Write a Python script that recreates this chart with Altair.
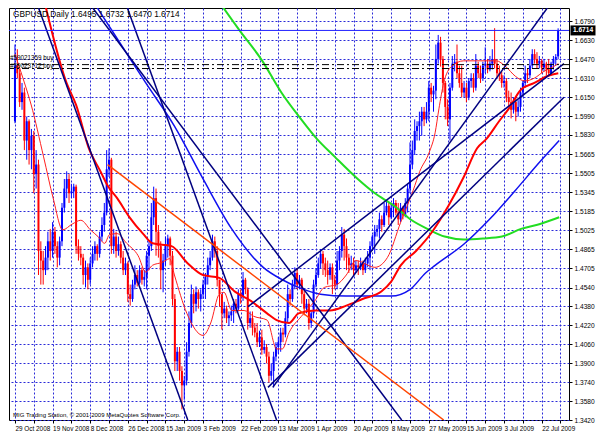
import json
import altair as alt
import pandas as pd

# ---------------- text ----------------
symbol_title = "GBPUSD,Daily  1.6495 1.6732 1.6470 1.6714"
copyright_text = "MIG Trading Station, \u00a9 2001-2009 MetaQuotes Software Corp."
date_labels = ["29 Oct 2008", "19 Nov 2008", "8 Dec 2008", "26 Dec 2008", "15 Jan 2009",
               "3 Feb 2009", "22 Feb 2009", "13 Mar 2009", "1 Apr 2009", "20 Apr 2009",
               "8 May 2009", "27 May 2009", "15 Jun 2009", "3 Jul 2009", "22 Jul 2009"]
price_ticks = [1.6790, 1.6630, 1.6470, 1.6310, 1.6150, 1.5990, 1.5830, 1.5665, 1.5505, 1.5345,
               1.5185, 1.5025, 1.4865, 1.4705, 1.4540, 1.4380, 1.4220, 1.4060, 1.3900, 1.3740,
               1.3580, 1.3420]

# ---------------- daily candles (bar index 0..231) ----------------
opens = [
    1.5946, 1.6417, 1.6352, 1.6108, 1.6189, 1.5783, 1.5946, 1.5702, 1.5824, 1.5499,
    1.5580, 1.4849, 1.4768, 1.4687, 1.4793, 1.4931, 1.4849, 1.5012, 1.4890, 1.4793,
    1.4931, 1.5215, 1.5377, 1.5458, 1.5337, 1.5353, 1.5393, 1.4890, 1.4825, 1.4793,
    1.4646, 1.4711, 1.4606, 1.4744, 1.4825, 1.4890, 1.4825, 1.4971, 1.5069, 1.5174,
    1.5540, 1.5621, 1.4890, 1.4971, 1.4849, 1.4906, 1.4793, 1.4687, 1.4744, 1.4484,
    1.4443, 1.4565, 1.4646, 1.4581, 1.4687, 1.4606, 1.4630, 1.4809, 1.4890, 1.5134,
    1.5296, 1.5012, 1.4890, 1.4687, 1.4768, 1.4890, 1.4955, 1.4809, 1.4443, 1.3916,
    1.3997, 1.3834, 1.3713, 1.3753, 1.3997, 1.4240, 1.4484, 1.4403, 1.4500, 1.4443,
    1.4484, 1.4565, 1.4630, 1.4728, 1.4793, 1.4931, 1.4849, 1.4606, 1.4484, 1.4322,
    1.4362, 1.4281, 1.4305, 1.4338, 1.4403, 1.4362, 1.4484, 1.4468, 1.4606, 1.4525,
    1.4240, 1.4281, 1.4200, 1.4159, 1.4078, 1.4119, 1.4013, 1.4037, 1.3956, 1.3794,
    1.3834, 1.3956, 1.4037, 1.4078, 1.4159, 1.4143, 1.4281, 1.4484, 1.4443, 1.4565,
    1.4663, 1.4565, 1.4606, 1.4484, 1.4362, 1.4403, 1.4240, 1.4322, 1.4565, 1.4646,
    1.4744, 1.4825, 1.4744, 1.4687, 1.4646, 1.4711, 1.4606, 1.4565, 1.4768, 1.4849,
    1.4987, 1.4890, 1.4793, 1.4728, 1.4744, 1.4687, 1.4728, 1.4711, 1.4744, 1.4687,
    1.4744, 1.4793, 1.4890, 1.4971, 1.5012, 1.5036, 1.5117, 1.5069, 1.5174, 1.5231,
    1.5134, 1.5215, 1.5255, 1.5174, 1.5117, 1.5215, 1.5150, 1.5255, 1.5377, 1.5580,
    1.5702, 1.5864, 1.5905, 1.5946, 1.6027, 1.5962, 1.6027, 1.6230, 1.6173, 1.6205,
    1.6473, 1.6611, 1.6473, 1.6270, 1.6067, 1.5962, 1.6230, 1.6433, 1.6449, 1.6352,
    1.6270, 1.6189, 1.6230, 1.6149, 1.6287, 1.6311, 1.6230, 1.6417, 1.6352, 1.6311,
    1.6417, 1.6433, 1.6384, 1.6433, 1.6473, 1.6433, 1.6352, 1.6335, 1.6270, 1.6287,
    1.6149, 1.6108, 1.6043, 1.6108, 1.6027, 1.6067, 1.6189, 1.6270, 1.6352, 1.6335,
    1.6417, 1.6514, 1.6473, 1.6433, 1.6457, 1.6400, 1.6433, 1.6384, 1.6352, 1.6433,
    1.6473, 1.6495]
highs = [
    1.6595, 1.6555, 1.6392, 1.6270, 1.6230, 1.5986, 1.5962, 1.5881, 1.5864, 1.5702,
    1.5621, 1.4931, 1.4849, 1.4890, 1.5012, 1.5036, 1.5093, 1.5052, 1.4931, 1.4971,
    1.5255, 1.5458, 1.5523, 1.5499, 1.5418, 1.5418, 1.5410, 1.4947, 1.4890, 1.4825,
    1.4768, 1.4744, 1.4793, 1.4890, 1.4931, 1.4906, 1.5012, 1.5134, 1.5255, 1.5702,
    1.5718, 1.5637, 1.5036, 1.5012, 1.4971, 1.4931, 1.4849, 1.4793, 1.4760, 1.4565,
    1.4606, 1.4728, 1.4687, 1.4728, 1.4711, 1.4687, 1.4849, 1.4931, 1.5255, 1.5393,
    1.5377, 1.5069, 1.4931, 1.4825, 1.4971, 1.4987, 1.4971, 1.4849, 1.4484, 1.4037,
    1.4037, 1.3875, 1.3794, 1.4078, 1.4338, 1.4565, 1.4525, 1.4549, 1.4525, 1.4525,
    1.4606, 1.4663, 1.4793, 1.4849, 1.4987, 1.4971, 1.4890, 1.4606, 1.4484, 1.4419,
    1.4387, 1.4338, 1.4387, 1.4443, 1.4443, 1.4525, 1.4525, 1.4671, 1.4622, 1.4541,
    1.4338, 1.4338, 1.4240, 1.4240, 1.4175, 1.4184, 1.4094, 1.4062, 1.3997, 1.3899,
    1.3997, 1.4078, 1.4119, 1.4200, 1.4200, 1.4338, 1.4565, 1.4525, 1.4606, 1.4711,
    1.4703, 1.4646, 1.4622, 1.4525, 1.4443, 1.4443, 1.4338, 1.4606, 1.4703, 1.4793,
    1.4866, 1.4849, 1.4793, 1.4768, 1.4744, 1.4744, 1.4646, 1.4849, 1.4890, 1.5052,
    1.5036, 1.4955, 1.4825, 1.4809, 1.4793, 1.4768, 1.4768, 1.4793, 1.4768, 1.4793,
    1.4849, 1.4931, 1.4987, 1.5069, 1.5069, 1.5174, 1.5150, 1.5255, 1.5272, 1.5255,
    1.5255, 1.5296, 1.5280, 1.5255, 1.5255, 1.5231, 1.5296, 1.5418, 1.5767, 1.5783,
    1.5962, 1.5946, 1.6027, 1.6067, 1.6067, 1.6108, 1.6287, 1.6270, 1.6246, 1.6595,
    1.6676, 1.6660, 1.6498, 1.6287, 1.6132, 1.6270, 1.6498, 1.6514, 1.6595, 1.6417,
    1.6417, 1.6287, 1.6270, 1.6311, 1.6352, 1.6352, 1.6514, 1.6449, 1.6417, 1.6449,
    1.6571, 1.6473, 1.6498, 1.6555, 1.6733, 1.6473, 1.6417, 1.6368, 1.6335, 1.6311,
    1.6205, 1.6189, 1.6149, 1.6149, 1.6124, 1.6230, 1.6287, 1.6417, 1.6392, 1.6473,
    1.6555, 1.6555, 1.6530, 1.6498, 1.6473, 1.6473, 1.6449, 1.6473, 1.6449, 1.6498,
    1.6514, 1.6732]
lows = [
    1.5929, 1.6311, 1.6067, 1.6043, 1.5702, 1.5621, 1.5580, 1.5540, 1.5337, 1.5377,
    1.4646, 1.4565, 1.4565, 1.4646, 1.4687, 1.4768, 1.4793, 1.4825, 1.4711, 1.4728,
    1.4890, 1.5174, 1.5296, 1.5255, 1.5296, 1.5296, 1.4825, 1.4768, 1.4728, 1.4565,
    1.4541, 1.4525, 1.4565, 1.4711, 1.4768, 1.4768, 1.4793, 1.4931, 1.5012, 1.5150,
    1.5475, 1.4825, 1.4825, 1.4793, 1.4809, 1.4744, 1.4646, 1.4646, 1.4419, 1.4387,
    1.4419, 1.4525, 1.4549, 1.4565, 1.4565, 1.4549, 1.4525, 1.4687, 1.4849, 1.5069,
    1.4809, 1.4793, 1.4525, 1.4500, 1.4728, 1.4793, 1.4728, 1.4387, 1.3834, 1.3834,
    1.3753, 1.3510, 1.3591, 1.3713, 1.3956, 1.4200, 1.4322, 1.4338, 1.4362, 1.4338,
    1.4443, 1.4443, 1.4565, 1.4687, 1.4768, 1.4793, 1.4549, 1.4378, 1.4184, 1.4281,
    1.4240, 1.4216, 1.4257, 1.4240, 1.4322, 1.4338, 1.4403, 1.4427, 1.4484, 1.4184,
    1.4200, 1.4135, 1.4119, 1.4037, 1.4037, 1.3972, 1.3981, 1.3899, 1.3737, 1.3753,
    1.3696, 1.3916, 1.3981, 1.3997, 1.4078, 1.4119, 1.4240, 1.4387, 1.4419, 1.4525,
    1.4525, 1.4525, 1.4403, 1.4305, 1.4322, 1.4184, 1.4200, 1.4281, 1.4541, 1.4622,
    1.4703, 1.4646, 1.4630, 1.4565, 1.4606, 1.4484, 1.4525, 1.4525, 1.4687, 1.4793,
    1.4768, 1.4687, 1.4663, 1.4687, 1.4646, 1.4663, 1.4646, 1.4687, 1.4646, 1.4663,
    1.4711, 1.4687, 1.4849, 1.4825, 1.4971, 1.4955, 1.5012, 1.5052, 1.5150, 1.5069,
    1.5117, 1.5134, 1.5150, 1.5069, 1.5093, 1.5117, 1.5134, 1.5174, 1.5337, 1.5540,
    1.5661, 1.5783, 1.5783, 1.5824, 1.5905, 1.5929, 1.5946, 1.6108, 1.6027, 1.6132,
    1.6433, 1.6408, 1.6189, 1.5962, 1.5905, 1.5783, 1.6205, 1.6368, 1.6311, 1.6230,
    1.6149, 1.6149, 1.6108, 1.6124, 1.6230, 1.6189, 1.6205, 1.6311, 1.6270, 1.6287,
    1.6352, 1.6352, 1.6368, 1.6384, 1.6392, 1.6311, 1.6287, 1.6230, 1.6230, 1.6108,
    1.6067, 1.5970, 1.6011, 1.5946, 1.5986, 1.6027, 1.6149, 1.6230, 1.6270, 1.6311,
    1.6392, 1.6433, 1.6392, 1.6392, 1.6352, 1.6368, 1.6335, 1.6327, 1.6335, 1.6384,
    1.6417, 1.6470]
closes = [
    1.6417, 1.6352, 1.6108, 1.6189, 1.5783, 1.5946, 1.5702, 1.5824, 1.5499, 1.5580,
    1.4849, 1.4768, 1.4687, 1.4793, 1.4931, 1.4849, 1.5012, 1.4890, 1.4793, 1.4931,
    1.5215, 1.5377, 1.5458, 1.5337, 1.5353, 1.5393, 1.4890, 1.4825, 1.4793, 1.4646,
    1.4711, 1.4606, 1.4744, 1.4825, 1.4890, 1.4825, 1.4971, 1.5069, 1.5174, 1.5540,
    1.5621, 1.4890, 1.4971, 1.4849, 1.4906, 1.4793, 1.4687, 1.4744, 1.4484, 1.4443,
    1.4565, 1.4646, 1.4581, 1.4687, 1.4606, 1.4630, 1.4809, 1.4890, 1.5134, 1.5296,
    1.5012, 1.4890, 1.4687, 1.4768, 1.4890, 1.4955, 1.4809, 1.4443, 1.3916, 1.3997,
    1.3834, 1.3713, 1.3753, 1.3997, 1.4240, 1.4484, 1.4403, 1.4500, 1.4443, 1.4484,
    1.4565, 1.4630, 1.4728, 1.4793, 1.4931, 1.4849, 1.4606, 1.4484, 1.4322, 1.4362,
    1.4281, 1.4305, 1.4338, 1.4403, 1.4362, 1.4484, 1.4468, 1.4606, 1.4525, 1.4240,
    1.4281, 1.4200, 1.4159, 1.4078, 1.4119, 1.4013, 1.4037, 1.3956, 1.3794, 1.3834,
    1.3956, 1.4037, 1.4078, 1.4159, 1.4143, 1.4281, 1.4484, 1.4443, 1.4565, 1.4663,
    1.4565, 1.4606, 1.4484, 1.4362, 1.4403, 1.4240, 1.4322, 1.4565, 1.4646, 1.4744,
    1.4825, 1.4744, 1.4687, 1.4646, 1.4711, 1.4606, 1.4565, 1.4768, 1.4849, 1.4987,
    1.4890, 1.4793, 1.4728, 1.4744, 1.4687, 1.4728, 1.4711, 1.4744, 1.4687, 1.4744,
    1.4793, 1.4890, 1.4971, 1.5012, 1.5036, 1.5117, 1.5069, 1.5174, 1.5231, 1.5134,
    1.5215, 1.5255, 1.5174, 1.5117, 1.5215, 1.5150, 1.5255, 1.5377, 1.5580, 1.5702,
    1.5864, 1.5905, 1.5946, 1.6027, 1.5962, 1.6027, 1.6230, 1.6173, 1.6205, 1.6473,
    1.6611, 1.6473, 1.6270, 1.6067, 1.5962, 1.6230, 1.6433, 1.6449, 1.6352, 1.6270,
    1.6189, 1.6230, 1.6149, 1.6287, 1.6311, 1.6230, 1.6417, 1.6352, 1.6311, 1.6417,
    1.6433, 1.6384, 1.6433, 1.6473, 1.6433, 1.6352, 1.6335, 1.6270, 1.6287, 1.6149,
    1.6108, 1.6043, 1.6108, 1.6027, 1.6067, 1.6189, 1.6270, 1.6352, 1.6335, 1.6417,
    1.6514, 1.6473, 1.6433, 1.6457, 1.6400, 1.6433, 1.6384, 1.6352, 1.6433, 1.6473,
    1.6490, 1.6714]

# ---------------- indicator lines (bar index, price) ----------------
fast_ma_idx = [0, 3.65, 6.9, 12.18, 16.24, 20.3, 24.37, 28.02, 32.08, 35.33, 38.17, 40.2, 43.45,
               47.51, 52.39, 55.63, 58.48, 62.54, 65.79, 67.82, 73.1, 80.0, 83.25, 86.9, 88.93,
               92.18, 97.46, 101.52, 107.21, 111.27, 113.71, 116.55, 121.83, 127.51, 131.57,
               136.85, 140.91, 144.97, 153.1, 158.38, 164.06, 169.34, 172.18, 176.24, 178.68,
               180.3, 182.34, 185.58, 190.86, 197.77, 204.67, 208.73, 212.79, 216.85, 220.91,
               224.97, 229.04, 231.07]
fast_ma_val = [1.6514, 1.6295, 1.6084, 1.5645, 1.5296, 1.5028, 1.5077, 1.5109, 1.5028, 1.4971,
               1.4914, 1.4987, 1.4996, 1.4914, 1.4809, 1.4671, 1.4728, 1.4752, 1.4784, 1.4646,
               1.4322, 1.4135, 1.4240, 1.4484, 1.4500, 1.4346, 1.4346, 1.4297, 1.4265, 1.4021,
               1.4021, 1.4159, 1.4297, 1.4427, 1.4541, 1.4565, 1.4646, 1.4768, 1.4711, 1.4793,
               1.5093, 1.5361, 1.5523, 1.5686, 1.5848, 1.6051, 1.6270, 1.6408, 1.6457, 1.6457,
               1.6457, 1.6408, 1.6327, 1.6287, 1.6311, 1.6368, 1.6408, 1.6433]
slow_ma_idx = [13.0, 21.93, 25.99, 31.27, 36.55, 39.39, 43.45, 48.73, 54.42, 58.48, 66.6, 73.1,
               80.0, 86.9, 93.4, 100.3, 107.21, 111.27, 116.55, 120.61, 127.51, 134.01, 140.91,
               147.82, 155.94, 160.0, 164.06, 170.56, 177.46, 184.37, 190.86, 196.55, 200.61,
               205.89, 209.95, 215.23, 220.91, 226.19, 231.07]
slow_ma_val = [1.6920, 1.6270, 1.6084, 1.5726, 1.5515, 1.5402, 1.5296, 1.5134, 1.4996, 1.4914,
               1.4890, 1.4752, 1.4646, 1.4622, 1.4508, 1.4427, 1.4322, 1.4265, 1.4240, 1.4322,
               1.4346, 1.4346, 1.4387, 1.4443, 1.4508, 1.4590, 1.4728, 1.4849, 1.5012, 1.5231,
               1.5475, 1.5718, 1.5799, 1.5946, 1.6051, 1.6214, 1.6270, 1.6327, 1.6352]
blue_ma_idx = [34.52, 45.08, 55.63, 67.82, 80.0, 92.18, 105.58, 113.71, 120.61, 129.95,
               140.91, 160.0, 168.12, 174.62, 178.68, 190.86, 201.83, 212.79, 223.35, 231.47]
blue_ma_val = [1.6920, 1.6595, 1.6270, 1.5905, 1.5458, 1.5036, 1.4711, 1.4606, 1.4541, 1.4484,
               1.4468, 1.4468, 1.4525, 1.4663, 1.4728, 1.4906, 1.5117, 1.5361, 1.5605, 1.5783]
green_ma_idx = [88.12, 95.43, 105.18, 113.3, 121.42, 127.92, 136.04, 145.79, 153.1, 161.22,
                168.12, 176.24, 182.74, 190.86, 198.98, 207.11, 215.23, 223.35, 231.47]
green_ma_val = [1.6920, 1.6717, 1.6457, 1.6189, 1.5970, 1.5808, 1.5645, 1.5458, 1.5337, 1.5231,
                1.5117, 1.5028, 1.4971, 1.4947, 1.4955, 1.4971, 1.5036, 1.5077, 1.5134]

# ---------------- trend lines: start / end (bar index, price) ----------------
trend_names = ["d1", "d2", "n1", "ua", "ub", "uc"]
trend_idx0 = [9.75, 47.51, 32.49, 99.09, 109.64, 107.61]
trend_val0 = [1.6920, 1.6920, 1.6920, 1.4378, 1.3696, 1.3696]
trend_idx1 = [73.5, 111.27, 164.47, 233.5, 227.0, 233.5]
trend_val1 = [1.3420, 1.3420, 1.3420, 1.6433, 1.6920, 1.6149]
orange_idx = [39.39, 182.34]
orange_val = [1.5580, 1.3420]

bid_price = 1.6714
order_prices = [1.6425, 1.6392]
order_labels = ["#59021359 buy", "#59023712 buy"]

# ---------------- chart ----------------
W, H = 560, 412
FONT = "Liberation Sans"
GRID = "#2a2ad8"
xs = alt.Scale(domain=[-0.41, 233.5], nice=False, zero=False)
ys = alt.Scale(domain=[1.3420, 1.69037], nice=False, zero=False)

label_arr = json.dumps(date_labels)
x_axis = alt.Axis(values=list(range(0, 233, 8)),
                  labelExpr=f"(datum.value % 16 === 0 && datum.value <= 224) ? {label_arr}[datum.value / 16] : ''",
                  grid=True, gridColor=GRID, gridDash=[2, 2], gridWidth=1, gridOpacity=1,
                  domain=False, ticks=True, tickSize=3, tickColor="black",
                  labelAlign="left", labelBaseline="top", labelPadding=2, labelFont=FONT,
                  labelFontSize=6.4, labelColor="black", labelOverlap=False, labelFlush=False,
                  labelBound=False, title=None)
y_axis = alt.Axis(orient="right", values=price_ticks, format=".4f",
                  grid=True, gridColor=GRID, gridDash=[2, 2], gridWidth=1, gridOpacity=1,
                  domain=False, ticks=True, tickSize=3, tickColor="black",
                  labelPadding=2, labelFont=FONT, labelFontSize=6.6, labelColor="black",
                  labelOverlap=False, labelFlush=False, labelBound=False, title=None)


def X(field="idx"):
    return alt.X(f"{field}:Q", scale=xs, axis=x_axis)


def Y(field="price"):
    return alt.Y(f"{field}:Q", scale=ys, axis=y_axis)


n = len(closes)
candles = pd.DataFrame({"idx": list(range(n)), "open": opens, "high": highs,
                        "low": lows, "close": closes})
candles["dir"] = ["up" if c >= o else "down" for o, c in zip(opens, closes)]

color = alt.Color("dir:N", scale=alt.Scale(domain=["up", "down"], range=["#0000ff", "#ff0000"]),
                  legend=None)

wicks = alt.Chart(candles).mark_rule(strokeWidth=1).encode(
    x=X(), y=Y("low"), y2="high:Q", color=color)
bodies = alt.Chart(candles).mark_bar(size=2).encode(
    x=X(), y=Y("open"), y2="close:Q", color=color)


def line_layer(idx, val, col, width, interp="linear"):
    df = pd.DataFrame({"idx": idx, "price": val})
    return alt.Chart(df).mark_line(color=col, strokeWidth=width, clip=True,
                                   interpolate=interp).encode(x=X(), y=Y())


green_layer = line_layer(green_ma_idx, green_ma_val, "#22dd22", 2, "monotone")
blue_layer = line_layer(blue_ma_idx, blue_ma_val, "#1010f0", 1.5, "monotone")
slow_layer = line_layer(slow_ma_idx, slow_ma_val, "#ff0000", 2, "monotone")
fast_layer = line_layer(fast_ma_idx, fast_ma_val, "#ff2020", 1, "monotone")

trend_rows = []
for nm, a0, v0, a1, v1 in zip(trend_names, trend_idx0, trend_val0, trend_idx1, trend_val1):
    trend_rows.append({"name": nm, "idx": a0, "price": v0})
    trend_rows.append({"name": nm, "idx": a1, "price": v1})
trend_df = pd.DataFrame(trend_rows)
trend_layer = alt.Chart(trend_df).mark_line(color="#000080", strokeWidth=1.5, clip=True).encode(
    x=X(), y=Y(), detail="name:N")
orange_layer = line_layer(orange_idx, orange_val, "#ff4500", 1.5)

bid_df = pd.DataFrame({"price": [bid_price], "txt": [f"{bid_price:.4f}"]})
bid_line = alt.Chart(bid_df).mark_rule(color="#2020ff", strokeWidth=1).encode(y=Y())
bid_box = alt.Chart(bid_df).mark_point(
    shape="M-1,-0.4L1,-0.4L1,0.4L-1,0.4Z", size=25 * 25, filled=True, color="black",
    opacity=1).encode(x=alt.value(W + 14), y=Y())
bid_txt = alt.Chart(bid_df).mark_text(color="white", fontSize=6.6, font=FONT, fontWeight="bold",
                                       align="center", baseline="middle").encode(
    x=alt.value(W + 14), y=Y(), text="txt:N")

orders_df = pd.DataFrame({"price": order_prices, "label": order_labels})
order_lines = alt.Chart(orders_df).mark_rule(color="black", strokeWidth=1,
                                             strokeDash=[7, 3, 2, 3]).encode(y=Y())
order_text1 = alt.Chart(orders_df.iloc[[0]]).mark_text(
    align="left", baseline="bottom", fontSize=6.3, font=FONT, color="black", dx=1, dy=-4).encode(
    x=alt.value(0), y=Y(), text="label:N")
order_text2 = alt.Chart(orders_df.iloc[[1]]).mark_text(
    align="left", baseline="bottom", fontSize=6.3, font=FONT, color="black", dx=1, dy=0).encode(
    x=alt.value(0), y=Y(), text="label:N")

title_df = pd.DataFrame({"t": [symbol_title]})
title_txt = alt.Chart(title_df).mark_text(align="left", baseline="top", fontSize=8.3, font=FONT,
                                          color="black").encode(
    x=alt.value(4), y=alt.value(2), text="t:N")
copy_df = pd.DataFrame({"t": [copyright_text]})
copy_txt = alt.Chart(copy_df).mark_text(align="left", baseline="bottom", fontSize=6, font=FONT,
                                        color="black").encode(
    x=alt.value(4), y=alt.value(H - 2), text="t:N")

chart = alt.layer(
    wicks, bodies, green_layer, blue_layer, slow_layer, fast_layer,
    trend_layer, orange_layer, bid_line, order_lines, order_text1, order_text2,
    bid_box, bid_txt, title_txt, copy_txt
).properties(
    width=W, height=H, padding={"left": 0, "top": 0, "right": 0, "bottom": 0},
    background="white"
).configure_view(stroke="black", strokeWidth=1)

chart.save("out.html", embed_options={"renderer": "svg", "actions": False})
